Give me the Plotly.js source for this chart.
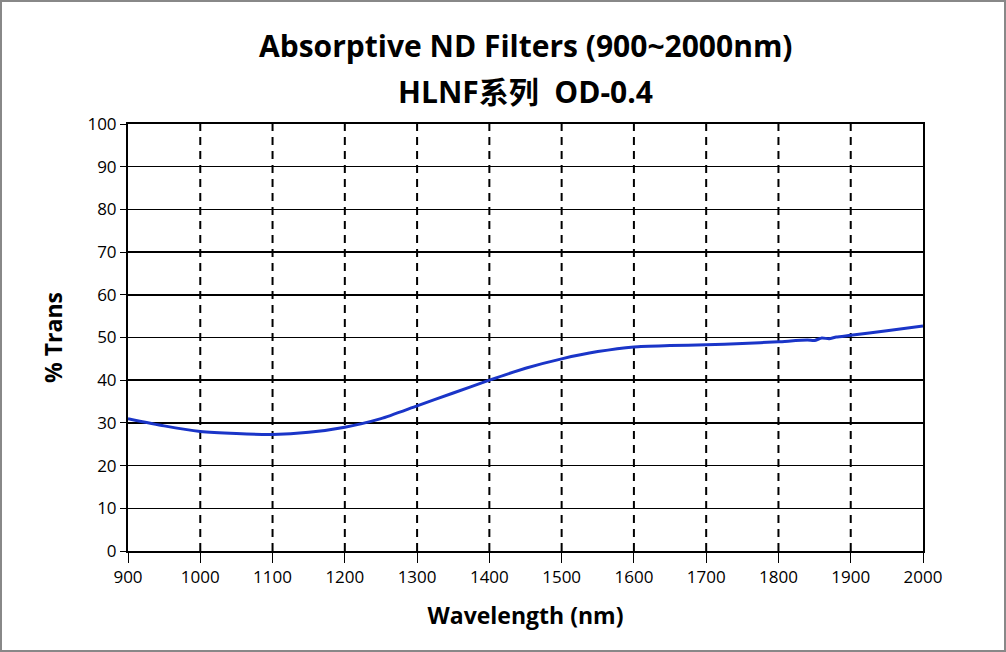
<!DOCTYPE html>
<html>
<head>
<meta charset="utf-8">
<script src="https://cdn.plot.ly/plotly-3.0.1.min.js"></script>
<style>
  body { margin: 0; }
  #chart { width: 1006px; height: 652px; box-sizing: border-box; border: 2px solid #888; }
</style>
</head>
<body>
<div id="chart"></div>
<script>
// wavelength (nm) and % transmission
var wavelength = [900, 950, 1000, 1050, 1100, 1150, 1200, 1250, 1300, 1350, 1400, 1450, 1500, 1550, 1600, 1650, 1700, 1750, 1800, 1840, 1850, 1860, 1870, 1880, 1900, 1950, 2000];
var trans = [31.0, 29.3, 28.0, 27.5, 27.3, 27.8, 29.0, 31.0, 34.0, 37.0, 40.0, 42.8, 45.0, 46.7, 47.8, 48.1, 48.3, 48.6, 49.0, 49.4, 49.3, 49.9, 49.7, 50.1, 50.5, 51.6, 52.7];

var xTicks = [900, 1000, 1100, 1200, 1300, 1400, 1500, 1600, 1700, 1800, 1900, 2000];

var trace = {
  x: wavelength,
  y: trans,
  type: 'scatter',
  mode: 'lines',
  line: { color: '#1a35c8', width: 3, shape: 'spline', smoothing: 0.6 },
  hoverinfo: 'skip'
};

var titleFont = { family: 'Open Sans, Noto Sans CJK SC, sans-serif', size: 30, color: '#000' };

var layout = {
  width: 1002,
  height: 648,
  margin: { l: 126, r: 81, t: 122, b: 99 },
  paper_bgcolor: '#ffffff',
  plot_bgcolor: '#ffffff',
  showlegend: false,
  font: { family: 'Open Sans, sans-serif', color: '#000', size: 17 },
  annotations: [
    { text: '<b>Absorptive ND Filters (900~2000nm)</b>', xref: 'paper', yref: 'paper',
      x: 0.5, y: 1.183, xanchor: 'center', yanchor: 'middle', showarrow: false, font: titleFont },
    { text: '<b>HLNF系列  OD-0.4</b>', xref: 'paper', yref: 'paper',
      x: 0.5, y: 1.075, xanchor: 'center', yanchor: 'middle', showarrow: false, font: titleFont }
  ],
  xaxis: {
    range: [900, 2000],
    tickvals: xTicks,
    ticks: 'outside', ticklen: 10, tickcolor: '#000',
    showgrid: false,
    showline: true, linecolor: '#000', linewidth: 2, mirror: true,
    zeroline: false,
    title: { text: '<b>Wavelength (nm)</b>', font: { size: 23 }, standoff: 20 }
  },
  yaxis: {
    range: [0, 100],
    dtick: 10,
    ticks: 'outside', ticklen: 6, tickcolor: '#000',
    showgrid: true, gridcolor: '#000', gridwidth: 1.5,
    showline: true, linecolor: '#000', linewidth: 2, mirror: true,
    zeroline: false,
    title: { text: '<b>% Trans</b>', font: { size: 23 }, standoff: 18 }
  },
  shapes: xTicks.slice(1, -1).map(function (v) {
    return { type: 'line', xref: 'x', yref: 'paper', x0: v, x1: v, y0: 0, y1: 1,
             line: { color: '#000', width: 2, dash: '8px,6px' }, layer: 'below' };
  })
};

Plotly.newPlot('chart', [trace], layout, { staticPlot: true });
</script>
</body>
</html>
